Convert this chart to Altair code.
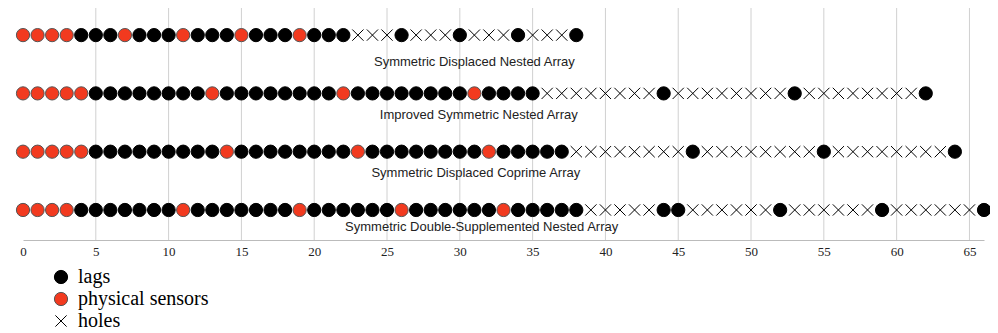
import altair as alt
import pandas as pd

array_names = [
    "Symmetric Displaced Nested Array",
    "Improved Symmetric Nested Array",
    "Symmetric Displaced Coprime Array",
    "Symmetric Double-Supplemented Nested Array",
]

sensors = [
    [0, 1, 2, 3, 7, 11, 15, 19],
    [0, 1, 2, 3, 4, 13, 22, 31],
    [0, 1, 2, 3, 4, 14, 23, 32],
    [0, 1, 2, 3, 11, 19, 26, 33],
]

lags = [
    [4, 5, 6, 8, 9, 10, 12, 13, 14, 16, 17, 18, 20, 21, 22, 26, 30, 34, 38],
    [5, 6, 7, 8, 9, 10, 11, 12, 14, 15, 16, 17, 18, 19, 20, 21,
     23, 24, 25, 26, 27, 28, 29, 30, 32, 33, 34, 35, 44, 53, 62],
    [5, 6, 7, 8, 9, 10, 11, 12, 13, 15, 16, 17, 18, 19, 20, 21, 22,
     24, 25, 26, 27, 28, 29, 30, 31, 33, 34, 35, 36, 37, 46, 55, 64],
    [4, 5, 6, 7, 8, 9, 10, 12, 13, 14, 15, 16, 17, 18, 20, 21, 22, 23, 24, 25,
     27, 28, 29, 30, 31, 32, 34, 35, 36, 37, 38, 44, 45, 52, 59, 66],
]

holes = [
    [23, 24, 25, 27, 28, 29, 31, 32, 33, 35, 36, 37],
    [36, 37, 38, 39, 40, 41, 42, 43, 45, 46, 47, 48, 49, 50, 51, 52,
     54, 55, 56, 57, 58, 59, 60, 61],
    [38, 39, 40, 41, 42, 43, 44, 45, 47, 48, 49, 50, 51, 52, 53, 54,
     56, 57, 58, 59, 60, 61, 62, 63],
    [39, 40, 41, 42, 43, 46, 47, 48, 49, 50, 51, 53, 54, 55, 56, 57, 58,
     60, 61, 62, 63, 64, 65],
]

label_x = [31.0, 31.3, 31.1, 31.5]
label_y = [0.46, 1.37, 2.37, 3.30]

tick_values = [0, 5, 10, 15, 20, 25, 30, 35, 40, 45, 50, 55, 60, 65]
grid_values = [5, 10, 15, 20, 25, 30, 35, 40, 45, 50, 55, 60, 65]

type_names = ["lags", "physical sensors", "holes"]
x_shape = "M-0.85,-0.85L0.85,0.85M-0.85,0.85L0.85,-0.85"

rows = []
for r in range(4):
    for v in lags[r]:
        rows.append({"x": v, "row": r, "type": "lags"})
    for v in sensors[r]:
        rows.append({"x": v, "row": r, "type": "physical sensors"})
    for v in holes[r]:
        rows.append({"x": v, "row": r, "type": "holes"})
pts = pd.DataFrame(rows)

labels = pd.DataFrame({"name": array_names, "lx": label_x, "ly": label_y})
grid = pd.DataFrame({"g": grid_values})

xscale = alt.Scale(domain=[0, 66], nice=False, zero=False)
yscale = alt.Scale(domain=[-0.465, 3.515], reverse=True, nice=False, zero=False)

gridlines = alt.Chart(grid).mark_rule(color="#d0d0d0", strokeWidth=1).encode(
    x=alt.X("g:Q", scale=xscale,
            axis=alt.Axis(values=tick_values, title=None, grid=False, ticks=False,
                          labelFont="Liberation Serif", labelFontSize=13,
                          labelColor="#222", labelPadding=5,
                          domainColor="#bbbbbb", labelFlush=False))
)

points = alt.Chart(pts).mark_point(opacity=1, size=175, strokeWidth=1).encode(
    x=alt.X("x:Q", scale=xscale),
    y=alt.Y("row:Q", scale=yscale, axis=None),
    shape=alt.Shape("type:N", scale=alt.Scale(domain=type_names,
                    range=["circle", "circle", x_shape]),
                    legend=alt.Legend(title=None)),
    fill=alt.Fill("type:N", scale=alt.Scale(domain=type_names,
                  range=["#000000", "#f23a1f", "transparent"]),
                  legend=alt.Legend(title=None)),
    stroke=alt.Stroke("type:N", scale=alt.Scale(domain=type_names,
                      range=["#000000", "#555555", "#000000"]),
                      legend=alt.Legend(title=None)),
)

texts = alt.Chart(labels).mark_text(
    font="Liberation Sans", fontSize=13, color="#222", align="center", baseline="middle"
).encode(
    x=alt.X("lx:Q", scale=xscale),
    y=alt.Y("ly:Q", scale=yscale),
    text="name:N",
)

chart = alt.layer(gridlines, points, texts).properties(
    width=961, height=232,
    autosize=alt.AutoSizeParams(type="none"),
    padding={"left": 15, "top": 0, "right": 6, "bottom": 92},
).configure_view(stroke=None).configure_legend(
    orient="none", legendX=28, legendY=259, direction="vertical",
    labelFont="Liberation Serif", labelFontSize=20, labelColor="#000",
    symbolSize=175, symbolOpacity=1, labelOffset=7, rowPadding=2, padding=0,
    symbolStrokeWidth=1,
)

chart.save("out.html", embed_options={"renderer": "svg", "actions": False})
